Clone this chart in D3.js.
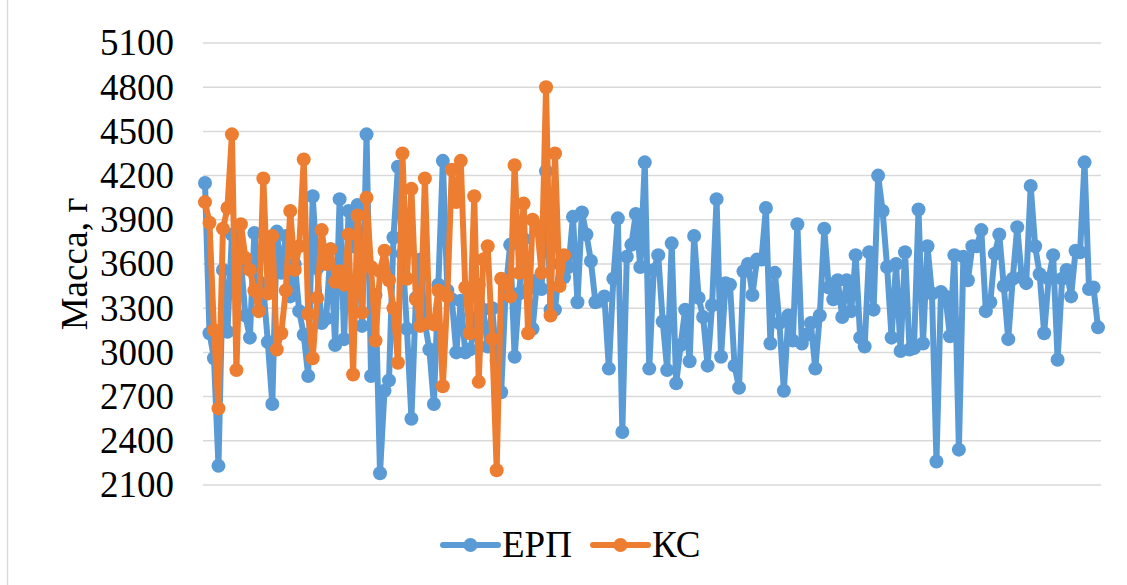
<!DOCTYPE html>
<html>
<head>
<meta charset="utf-8">
<script src="https://cdn.jsdelivr.net/npm/d3@7"></script>
<style>
  body { margin: 0; background: #fff; }
  svg { display: block; }
  svg text { font-family: "Liberation Serif", "Times New Roman", "DejaVu Serif", serif !important; fill: #000; }
</style>
</head>
<body>
<svg width="1127" height="585"></svg>
<script>
// values (г)
const erp = [
  4150, 3130, 2960, 2230, 3560, 3140, 3800, 3780, 3620, 3250,
  3100, 3810, 3480, 3440, 3070, 2650, 3820, 3540, 3790, 3380,
  3600, 3280, 3120, 2840, 4060, 3570, 3200, 3230, 3700, 3050,
  4040, 3090, 3960, 3720, 4000, 3180, 4480, 2840, 3390, 2180,
  2740, 2810, 3780, 4260, 3670, 3160, 2550, 3370, 3630, 3200,
  3020, 2650, 3460, 4300, 3420, 3360, 3000, 3350, 3000, 3020,
  3140, 3460, 3290, 3040, 3300, 2940, 2730, 3420, 3730, 2970,
  3400, 3770, 3430, 3160, 3490, 3430, 4230, 3290, 3290, 3600,
  3510, 3580, 3920, 3340, 3950, 3800, 3620, 3340, 3350, 3380,
  2890, 3500, 3910, 2460, 3650, 3730, 3940, 3580, 4290, 2890,
  3560, 3660, 3210, 2880, 3740, 2790, 3050, 3290, 2940, 3790,
  3370, 3240, 2910, 3320, 4040, 2970, 3470, 3460, 2910, 2760,
  3550, 3600, 3390, 3630, 3630, 3980, 3060, 3540, 3200, 2740,
  3250, 3080, 3870, 3060, 3120, 3200, 2890, 3250, 3840, 3440,
  3360, 3490, 3240, 3490, 3280, 3660, 3100, 3040, 3680, 3290,
  4200, 3960, 3580, 3100, 3600, 3010, 3680, 3020, 3030, 3970,
  3060, 3720, 3400, 2260, 3410, 3380, 3110, 3660, 2340, 3650,
  3490, 3720, 3720, 3830, 3280, 3340, 3670, 3800, 3450, 3090,
  3500, 3850, 3510, 3470, 4130, 3720, 3530, 3130, 3500, 3660,
  2950, 3500, 3560, 3380, 3690, 3680, 4290, 3430, 3440, 3170
];

const ks = [
  4020, 3880, 3150, 2620, 3840, 3980, 4480, 2880, 3870, 3640,
  3560, 3420, 3280, 4180, 3400, 3790, 3020, 3130, 3420, 3960,
  3560, 3720, 4310, 3260, 2960, 3370, 3830, 3600, 3700, 3480,
  3550, 3460, 3800, 2850, 3930, 3270, 4050, 3580, 3080, 3550,
  3690, 3490, 3300, 2930, 4350, 3500, 4110, 3360, 3180, 4180,
  3200, 3190, 3420, 2770, 3380, 4240, 4020, 4300, 3440, 3130,
  4060, 2800, 3630, 3720, 3090, 2200, 3500, 3460, 3380, 4270,
  3540, 4010, 3130, 3900, 3860, 3540, 4800, 3250, 4350, 3450,
  3660
];

const yTicks = [2100, 2400, 2700, 3000, 3300, 3600, 3900, 4200, 4500, 4800, 5100];
const seriesNames = ["ЕРП", "КС"];
const colors = ["#5B9BD5", "#ED7D31"];

const svg = d3.select("svg");

const x = d3.scalePoint()
  .domain(d3.range(erp.length))
  .range([205, 1098])
  .padding(0);

const y = d3.scaleLinear()
  .domain([2100, 5100])
  .range([485, 43]);

// chart area left edge
svg.append("line")
  .attr("x1", 7.5).attr("x2", 7.5)
  .attr("y1", 0).attr("y2", 585)
  .attr("stroke", "#d9d9d9")
  .attr("stroke-width", 1.5);

// gridlines
svg.append("g")
  .selectAll("line")
  .data(yTicks)
  .enter()
  .append("line")
  .attr("x1", 203).attr("x2", 1101)
  .attr("y1", d => y(d)).attr("y2", d => y(d))
  .attr("stroke", "#d9d9d9")
  .attr("stroke-width", 1.5);

// y axis labels
const yAxis = d3.axisLeft(y)
  .tickValues(yTicks)
  .tickFormat(d3.format("d"))
  .tickSize(0)
  .tickPadding(0);
const gy = svg.append("g")
  .attr("transform", "translate(174,0)")
  .call(yAxis);
gy.select(".domain").remove();
gy.attr("font-family", null).attr("font-size", null);
gy.selectAll("text")
  .style("font-size", "37px")
  .attr("fill", "#000");

// axis title
svg.append("text")
  .attr("transform", "translate(87,264) rotate(-90)")
  .attr("text-anchor", "middle")
  .style("font-size", "37px")
  .text("Масса, г");

const line = d3.line()
  .x((d, i) => x(i))
  .y(d => y(d));

[erp, ks].forEach((data, k) => {
  const g = svg.append("g");
  g.append("path")
    .datum(data)
    .attr("d", line)
    .attr("fill", "none")
    .attr("stroke", colors[k])
    .attr("stroke-width", 6)
    .attr("stroke-linejoin", "round");
  g.selectAll("circle")
    .data(data)
    .enter()
    .append("circle")
    .attr("cx", (d, i) => x(i))
    .attr("cy", d => y(d))
    .attr("r", 7)
    .attr("fill", colors[k]);
});

// legend
const legend = svg.append("g").attr("transform", "translate(0,545)");
const legendX = [443, 593];
seriesNames.forEach((name, k) => {
  const lg = legend.append("g").attr("transform", `translate(${legendX[k]},0)`);
  lg.append("line")
    .attr("x1", 0).attr("x2", 55)
    .attr("stroke", colors[k])
    .attr("stroke-width", 6)
    .attr("stroke-linecap", "round");
  lg.append("circle")
    .attr("cx", 27.5).attr("cy", 0).attr("r", 7)
    .attr("fill", colors[k]);
  lg.append("text")
    .attr("x", 59)
    .attr("y", 12)
    .style("font-size", "37px")
    .text(name);
});
</script>
</body>
</html>
